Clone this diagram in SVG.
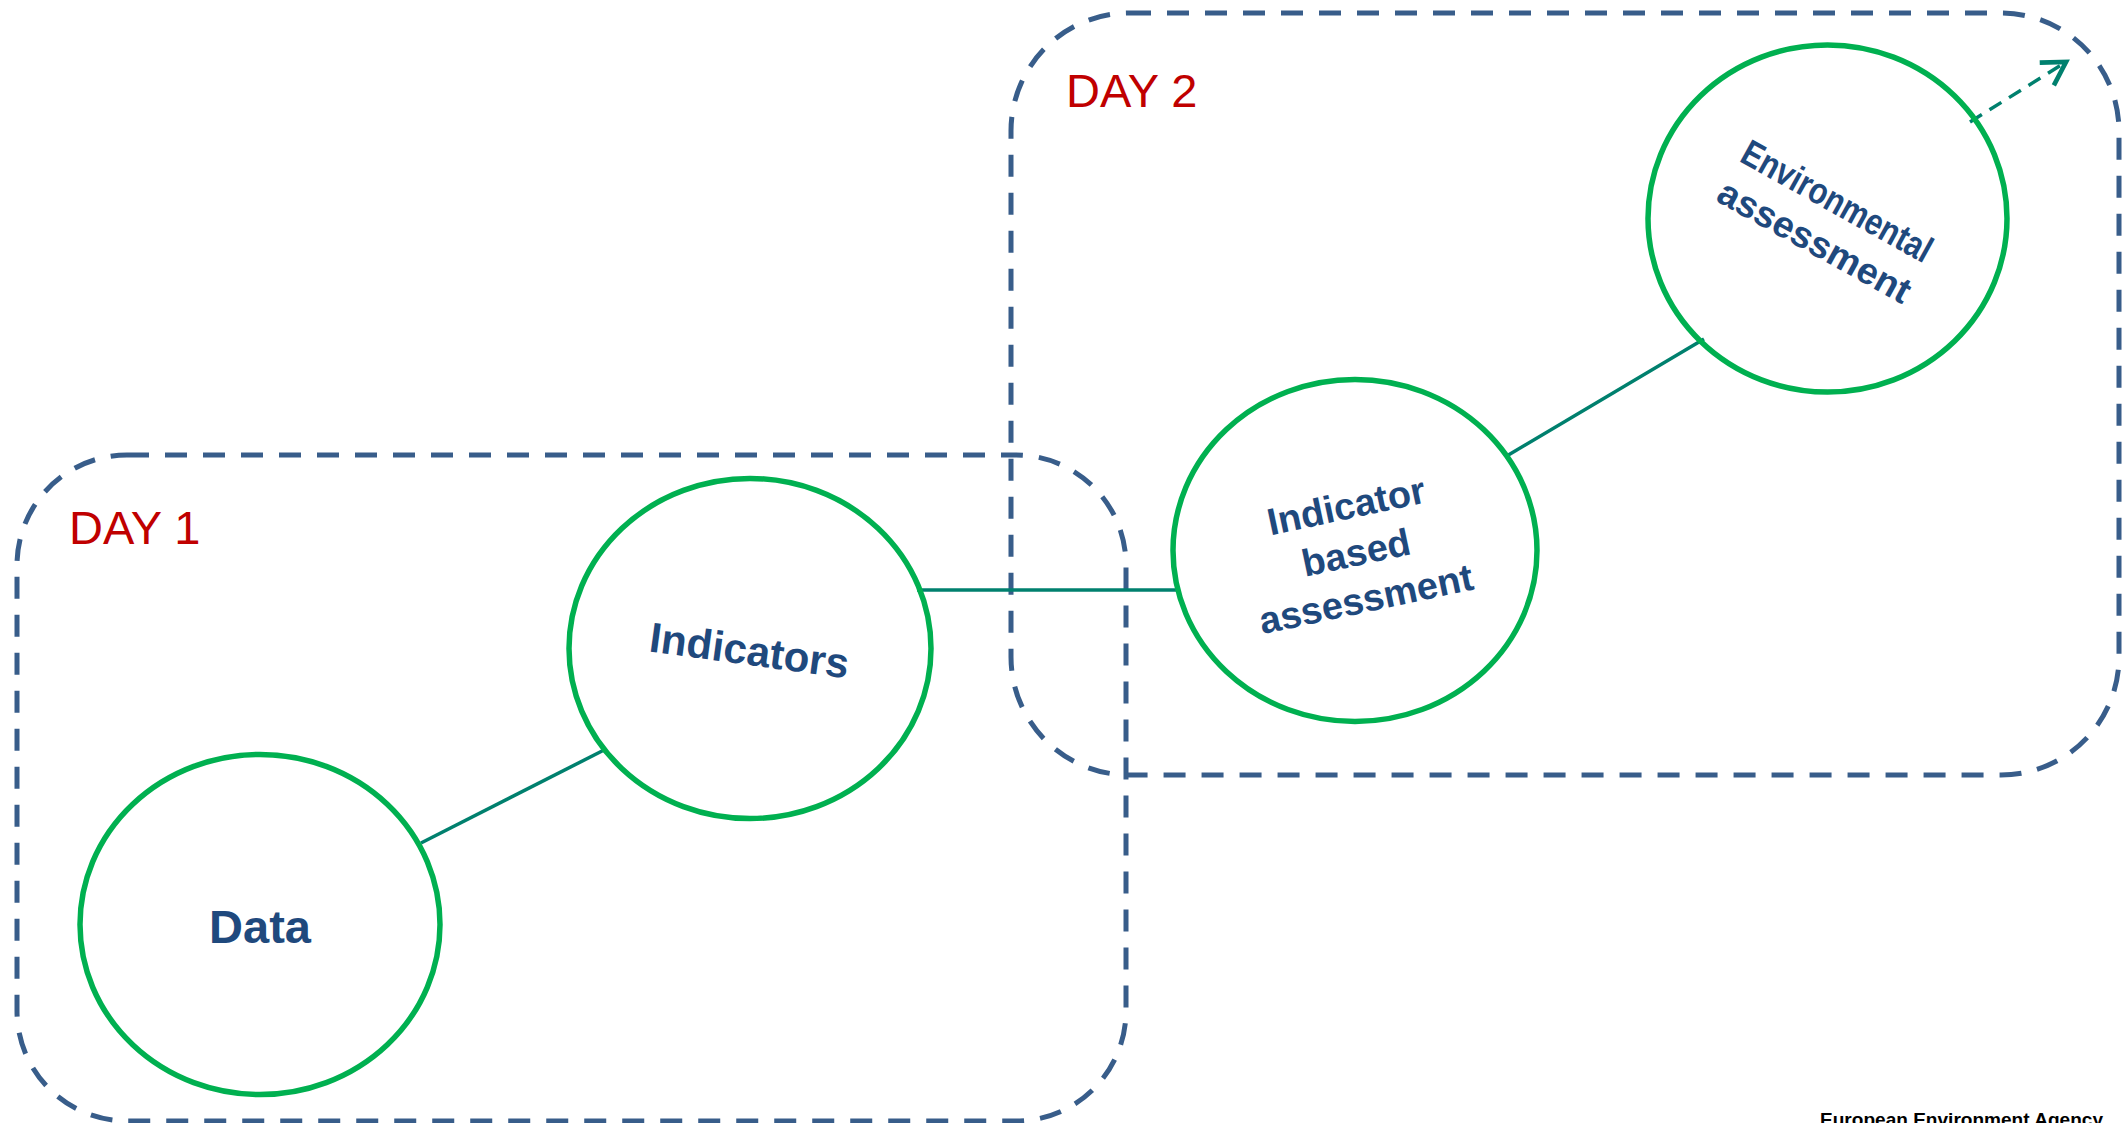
<svg xmlns="http://www.w3.org/2000/svg" width="2123" height="1123" viewBox="0 0 2123 1123">
<style>
.box{fill:none;stroke:#385D8A;stroke-width:5;stroke-dasharray:22 16}
.node{fill:none;stroke:#00B050;stroke-width:5.5}
.lbl{font-family:"Liberation Sans",Arial,sans-serif;font-weight:bold;fill:#1F497D;text-anchor:middle}
.day{font-family:"Liberation Sans",Arial,sans-serif;fill:#C00000;font-size:47px}
.conn{stroke:#00806E;stroke-width:3.5;fill:none}
</style>
<defs>
<marker id="arr" markerUnits="userSpaceOnUse" orient="auto" markerWidth="40" markerHeight="40" refX="0" refY="0" viewBox="-25 -15 30 30" overflow="visible">
<path d="M-17,-10 L0,0 L-17,10" fill="none" stroke="#00806E" stroke-width="3.5" stroke-dasharray="none"/>
</marker>
</defs>
<rect width="2123" height="1123" fill="#FFFFFF"/>
<g id="day1">
<rect class="box" x="17" y="455" width="1109" height="666" rx="110" ry="110"/>
<text class="day" x="69" y="544">DAY 1</text>
</g>
<g id="day2">
<rect class="box" x="1011" y="13" width="1108" height="762" rx="118" ry="118"/>
<text class="day" x="1066" y="107">DAY 2</text>
</g>
<g id="connectors">
<line class="conn" x1="421" y1="843" x2="606" y2="749"/>
<line class="conn" x1="917" y1="590" x2="1177" y2="590"/>
<line class="conn" x1="1505" y1="457" x2="1704" y2="339"/>
<line class="conn" x1="1970" y1="122" x2="2066" y2="62" stroke-dasharray="14 9" marker-end="url(#arr)"/>
</g>
<g id="node-data">
<ellipse class="node" cx="260" cy="924.5" rx="180" ry="170"/>
<text class="lbl" x="260" y="943" font-size="47">Data</text>
</g>
<g id="node-indicators">
<ellipse class="node" cx="750" cy="648.5" rx="181" ry="170"/>
<text class="lbl" font-size="42" transform="translate(749.5,650) rotate(7.8)" x="0" y="15">Indicators</text>
</g>
<g id="node-iba">
<ellipse class="node" cx="1355" cy="550.5" rx="182" ry="171"/>
<g transform="translate(1356,552) rotate(-12)">
<text class="lbl" font-size="38" x="0" y="-34">Indicator</text>
<text class="lbl" font-size="38" x="0" y="13.6">based</text>
<text class="lbl" font-size="38" x="0" y="61">assessment</text>
</g>
</g>
<g id="node-env">
<ellipse class="node" cx="1827.5" cy="218.5" rx="179.5" ry="173.5"/>
<g transform="translate(1826,221) rotate(29)">
<text class="lbl" font-size="37" x="0" y="-10" textLength="212" lengthAdjust="spacingAndGlyphs">Environmental</text>
<text class="lbl" font-size="37" x="0" y="36" textLength="215" lengthAdjust="spacingAndGlyphs">assessment</text>
</g>
</g>
<text x="1820" y="1126" font-family="'Liberation Sans',Arial,sans-serif" font-weight="bold" font-size="19" fill="#000000" textLength="283" lengthAdjust="spacingAndGlyphs">European Environment Agency</text>
</svg>
